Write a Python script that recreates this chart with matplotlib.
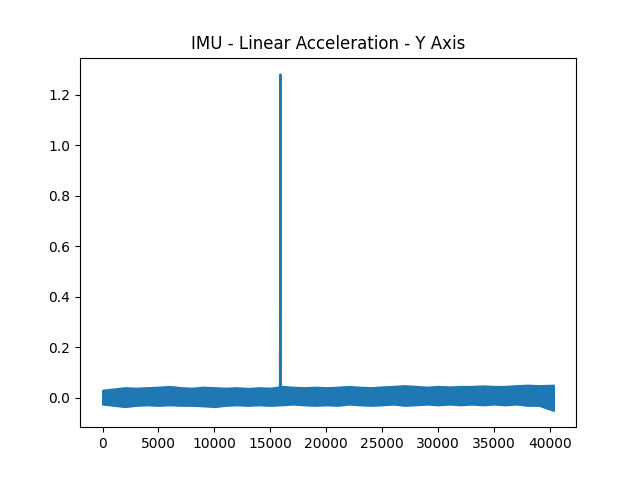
#!/usr/bin/env python3

import numpy as np
import matplotlib.pyplot as plt

# envelope of the noisy signal, every 1000 samples
sample_idx = list(range(0, 41000, 1000))
sample_idx[-1] = 40300
band_upper = [0.030, 0.035, 0.040, 0.038, 0.040, 0.042, 0.045, 0.040, 0.038, 0.042,
              0.040, 0.038, 0.040, 0.037, 0.040, 0.038, 0.045, 0.042, 0.040, 0.042,
              0.040, 0.042, 0.045, 0.042, 0.040, 0.043, 0.045, 0.048, 0.045, 0.042,
              0.045, 0.043, 0.045, 0.045, 0.047, 0.045, 0.045, 0.048, 0.050, 0.048,
              0.050]
band_lower = [-0.025, -0.030, -0.035, -0.030, -0.028, -0.030, -0.028, -0.030, -0.030, -0.032,
              -0.035, -0.030, -0.028, -0.030, -0.028, -0.030, -0.028, -0.025, -0.028, -0.030,
              -0.028, -0.030, -0.025, -0.028, -0.030, -0.028, -0.025, -0.030, -0.028, -0.025,
              -0.028, -0.025, -0.028, -0.025, -0.028, -0.025, -0.028, -0.025, -0.030, -0.030,
              -0.050]

# single spike
spike_x = [15850, 15900, 15950]
spike_y = [0.0, 1.28, 0.0]

color = '#1f77b4'
fig, ax = plt.subplots(figsize=(6.4, 4.8), dpi=100)
ax.fill_between(sample_idx, band_lower, band_upper, color=color, linewidth=1.5)
ax.plot(spike_x, spike_y, color=color)
ax.set_title('IMU - Linear Acceleration - Y Axis')
fig.savefig('out.png')
